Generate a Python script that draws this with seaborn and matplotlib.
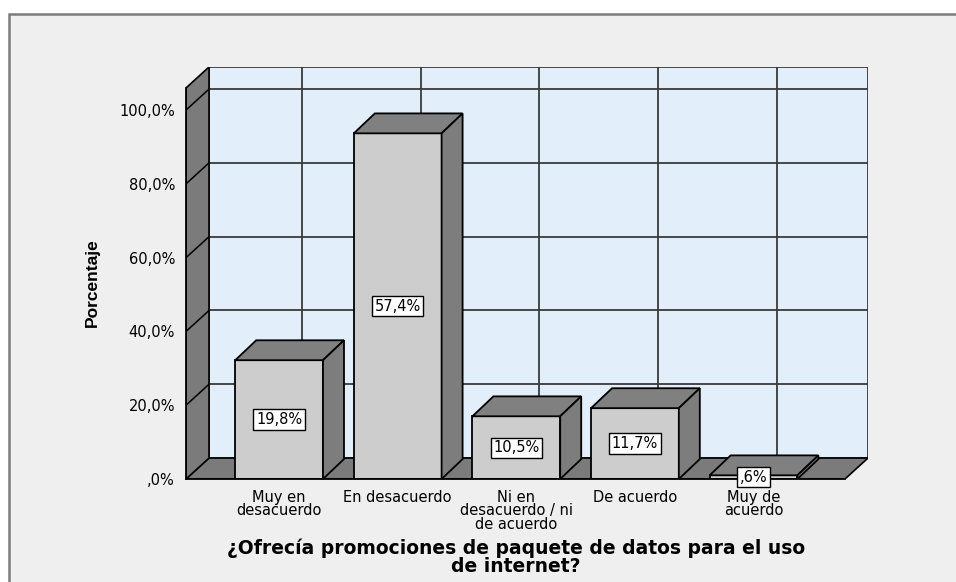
import pandas as pd
import seaborn as sns
import matplotlib.pyplot as plt
from matplotlib.patches import Polygon, Rectangle


categories = ["Muy en\ndesacuerdo", "En desacuerdo", "Ni en\ndesacuerdo / ni\nde acuerdo",
              "De acuerdo", "Muy de\nacuerdo"]
percent_labels = [19.8, 57.4, 10.5, 11.7, 0.6]
# heights of the bars as drawn against the axis of the picture
bar_heights = [32.2, 93.7, 17.0, 19.2, 1.0]
y_ticks = [0, 20, 40, 60, 80, 100]
y_tick_labels = [",0%", "20,0%", "40,0%", "60,0%", "80,0%", "100,0%"]
title = "¿Ofrecía promociones de paquete de datos para el uso\nde internet?"

df = pd.DataFrame({"categoria": categories, "altura": bar_heights})

sns.set_theme(style="white")
plt.rcParams['font.family'] = ['DejaVu Sans']
plt.rcParams['text.color'] = 'black'
plt.rcParams['xtick.color'] = 'black'
plt.rcParams['ytick.color'] = 'black'

W, H = 956, 582
fig = plt.figure(figsize=(W / 100, H / 100), dpi=100, facecolor="white")
fig.add_artist(Rectangle((9 / W, -0.1), 1.2, 1 - 14 / H + 0.1, transform=fig.transFigure,
                         facecolor="#efefef", edgecolor="#7c7c7c", lw=1.8, zorder=0))

ax = fig.add_axes([186 / W, 1 - 479 / H, (868 - 186) / W, (479 - 67) / H])
ax.set_facecolor("none")

sns.barplot(data=df, x="categoria", y="altura", color="#cdcdcd", saturation=1, width=0.74,
            edgecolor="black", linewidth=1.3, ax=ax, zorder=5)

# 3d box geometry (data units)
x0, x1 = -0.785, 4.771
ddx, ddy = 0.194, 5.68
top = 106
bdx, bdy = 0.177, 5.4
wall = "#7b7b7b"
grid = "#3a3a3a"

ax.add_patch(Rectangle((x0 + ddx, ddy), x1 - x0, top, facecolor="#e2eefa",
                       edgecolor=grid, lw=1.3, zorder=1))
for t in y_ticks[1:]:
    ax.plot([x0 + ddx, x1 + ddx], [t + ddy, t + ddy], color=grid, lw=1.3, zorder=2)
for i in range(len(categories)):
    ax.plot([i + ddx, i + ddx], [ddy, top + ddy], color=grid, lw=1.3, zorder=2)

ax.add_patch(Polygon([(x0, 0), (x1, 0), (x1 + ddx, ddy), (x0 + ddx, ddy)],
                     facecolor=wall, edgecolor="black", lw=1.2, zorder=3))
ax.add_patch(Polygon([(x0, 0), (x0, top), (x0 + ddx, top + ddy), (x0 + ddx, ddy)],
                     facecolor=wall, edgecolor="black", lw=1.2, zorder=3))
for t in y_ticks[1:]:
    ax.plot([x0, x0 + ddx], [t, t + ddy], color="black", lw=1.1, zorder=4)

for p in list(ax.patches):
    if p.get_zorder() != 5:
        continue
    bx, bw, bh = p.get_x(), p.get_width(), p.get_height()
    ax.add_patch(Polygon([(bx, bh), (bx + bw, bh), (bx + bw + bdx, bh + bdy), (bx + bdx, bh + bdy)],
                         facecolor="#808080", edgecolor="black", lw=1.3, zorder=5))
    ax.add_patch(Polygon([(bx + bw, 0), (bx + bw + bdx, bdy), (bx + bw + bdx, bh + bdy), (bx + bw, bh)],
                         facecolor="#7d7d7d", edgecolor="black", lw=1.3, zorder=5))

for i, (h, v) in enumerate(zip(bar_heights, percent_labels)):
    txt = f"{v:.1f}".replace(".", ",")
    if txt.startswith("0"):
        txt = txt[1:]
    ax.text(i, h / 2, txt + "%", ha="center", va="center", fontsize=10.5, zorder=7,
            bbox=dict(boxstyle="square,pad=0.18", facecolor="white", edgecolor="black", lw=1))

ax.set_xlim(x0, x1 + ddx)
ax.set_ylim(0, top + ddy)
for s in ["top", "right"]:
    ax.spines[s].set_visible(False)
ax.spines["left"].set_bounds(0, top)
ax.spines["bottom"].set_bounds(x0, x1)
for s in ["left", "bottom"]:
    ax.spines[s].set_color("black")
    ax.spines[s].set_linewidth(1.3)
    ax.spines[s].set_zorder(6)

ax.set_yticks(y_ticks, y_tick_labels)
ax.set_xticks(range(len(categories)), categories)
ax.tick_params(axis="y", direction="out", length=7, width=1.2, color="black", labelsize=10.5, pad=1)
ax.tick_params(axis="x", direction="out", length=5, width=1.2, color="black", labelsize=10.5, pad=3)
for lab in ax.get_xticklabels():
    lab.set_linespacing(0.85)
ax.set_xlabel("")
ax.set_ylabel("")

fig.text(92 / W, 1 - 283 / H, "Porcentaje", rotation=90, ha="center", va="center",
         fontsize=12.5, fontweight="bold", family=["Liberation Sans Narrow", "Liberation Sans"])
fig.text(516 / W, 1 - 557 / H, title, ha="center", va="center", fontsize=13.5,
         fontweight="bold", linespacing=0.95)

fig.savefig("out.png", dpi=100, facecolor=fig.get_facecolor())
